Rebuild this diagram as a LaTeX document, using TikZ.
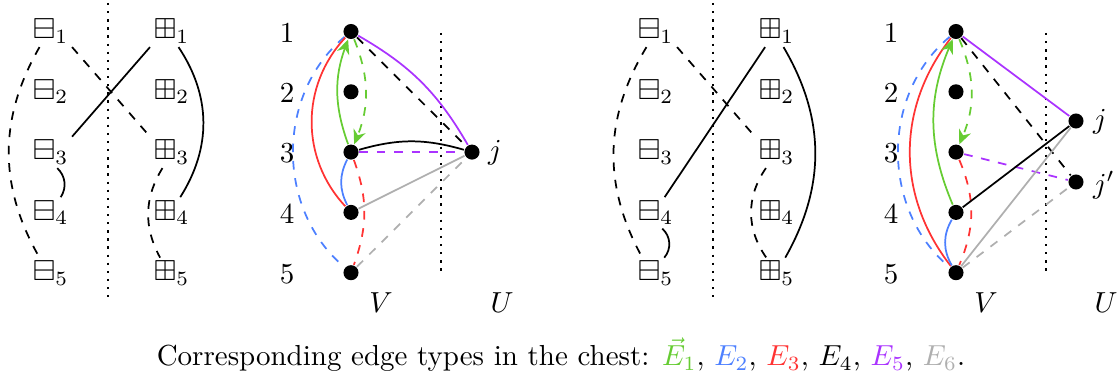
\documentclass[tikz,border=0pt]{standalone}
\usepackage{amssymb}
\usetikzlibrary{arrows.meta}
\definecolor{mygreen}{RGB}{102,204,51}
\definecolor{myblue}{RGB}{77,128,255}
\definecolor{myred}{RGB}{255,51,51}
\definecolor{mypurple}{RGB}{170,51,255}
\definecolor{mygray}{RGB}{175,175,175}
\begin{document}
\begin{tikzpicture}[x=0.345pt,y=-0.345pt,line width=0.6pt,
  sym/.style={anchor=base west,inner sep=1pt},
  dot/.style={circle,fill=black,inner sep=0pt,minimum size=5.2pt},
  lab/.style={inner sep=0pt},
  sep/.style={dotted,line width=0.8pt},
  arr/.style={-{Stealth[length=5pt,width=4.4pt]}}]
\useasboundingbox (0,0) rectangle (1117,375);

% ---------- panel 1 ----------
\foreach \i/\y in {1/39,2/99.5,3/160,4/220.5,5/281}{
  \node[sym] (a\i) at (29,\y) {$\boxminus_{\i}$};
  \node[sym] (b\i) at (150,\y) {$\boxplus_{\i}$};
}
\coordinate (s1t) at (108,3); \coordinate (s1b) at (108,303);
\draw[sep] (s1t) -- (s1b);
\draw[dashed] (a1.-125) to[bend right=30] (a5.125);
\draw[dashed] (a1.south east) -- (b3.north west);
\draw (b1.south west) -- (a3.north east);
\draw (a3.-67) to[bend left=40] (a4.57);
\draw (b1.-66) to[bend left=33] (b4.61);
\draw[dashed] (b3.-120) to[bend right=30] (b5.126);

% ---------- panel 2 ----------
\foreach \i/\y in {1/31.5,2/91.8,3/152.1,4/212.4,5/272.7}{
  \node[dot] (p\i) at (351,\y) {};
  \node[lab] (n\i) at (287,\y+1) {\i};
}
\node[dot] (pj) at (472,152.1) {};
\node[lab] (lj) at (495,152.5) {$j$};
\node[lab] (lV) at (381,303) {$V$};
\node[lab] (lU) at (502,303) {$U$};
\coordinate (s2t) at (441,33); \coordinate (s2b) at (441,273);
\draw[sep] (s2t) -- (s2b);
\draw[myblue,dashed] (p1) to[bend right=50] (p5);
\draw[myred] (p1) to[bend right=43] (p4);
\draw[mygreen,arr] (p3) to[bend left=20] (p1);
\draw[mygreen,dashed,arr] (p1) to[bend left=22] (p3);
\draw[myblue] (p3) to[bend right=27] (p4);
\draw[myred,dashed] (p3) to[bend left=20] (p5);
\draw[mypurple] (p1) to[bend left=15] (pj);
\draw[dashed] (p1) -- (pj);
\draw (p3) to[bend left=16] (pj);
\draw[mypurple,dashed] (p3) -- (pj);
\draw[mygray] (p4) -- (pj);
\draw[mygray,dashed] (p5) -- (pj);

% ---------- panel 3 ----------
\foreach \i/\y in {1/39,2/99.5,3/160,4/220.5,5/281}{
  \node[sym] (c\i) at (634,\y) {$\boxminus_{\i}$};
  \node[sym] (d\i) at (755,\y) {$\boxplus_{\i}$};
}
\coordinate (s3t) at (713,3); \coordinate (s3b) at (713,303);
\draw[sep] (s3t) -- (s3b);
\draw[dashed] (c1.-120) to[bend right=30] (c5.130);
\draw[dashed] (c1.south east) -- (d3.north west);
\draw (d1.-126) -- (c4.60);
\draw (c4.-67) to[bend left=45] (c5.61);
\draw (d1.-66) to[bend left=30] (d5.61);
\draw[dashed] (d3.-124) to[bend right=35] (d5.123);

% ---------- panel 4 ----------
\foreach \i/\y in {1/31.5,2/91.8,3/152.1,4/212.4,5/272.7}{
  \node[dot] (q\i) at (956,\y) {};
  \node[lab] (m\i) at (891,\y+1) {\i};
}
\node[dot] (qj) at (1076,121) {};
\node[dot] (qk) at (1076,182) {};
\node[lab] (mj) at (1100,122) {$j$};
\node[lab] (mk) at (1104,185) {$j'$};
\node[lab] (mV) at (986,303) {$V$};
\node[lab] (mU) at (1106,303) {$U$};
\coordinate (s4t) at (1046,33); \coordinate (s4b) at (1046,273);
\draw[sep] (s4t) -- (s4b);
\draw[myblue,dashed] (q1) to[bend right=50] (q5);
\draw[myred] (q1) to[bend right=38] (q5);
\draw[mygreen,arr] (q4) to[bend left=23] (q1);
\draw[mygreen,dashed,arr] (q1) to[bend left=23] (q3);
\draw[myblue] (q4) to[bend right=30] (q5);
\draw[myred,dashed] (q3) to[bend left=23] (q5);
\draw[mypurple] (q1) -- (qj);
\draw[dashed] (q1) -- (qk);
\draw[mypurple,dashed] (q3) -- (qk);
\draw (q4) -- (qj);
\draw[mygray] (q5) -- (qj);
\draw[mygray,dashed] (q5) -- (qk);

% ---------- caption ----------
\node[anchor=base,inner sep=0pt] (cap) at (561,366) {Corresponding edge types in the chest:
  $\color{mygreen}\vec{E}_1$, $\color{myblue}E_2$, $\color{myred}E_3$, $E_4$,
  $\color{mypurple}E_5$, $\color{mygray}E_6$.};
\end{tikzpicture}
\end{document}
